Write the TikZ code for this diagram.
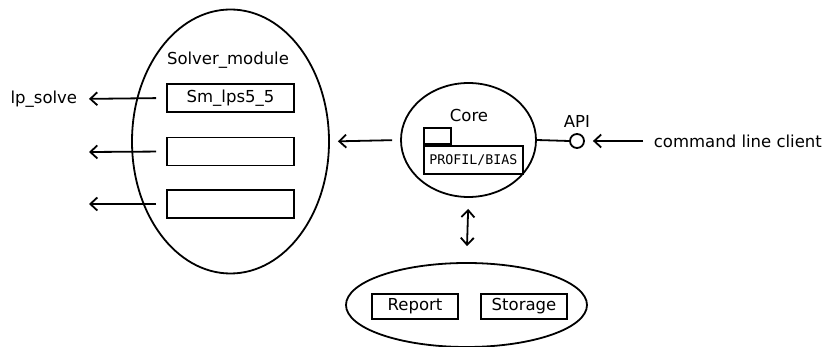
\documentclass[tikz,border=0pt]{standalone}
\usepackage{fontspec}
\setmainfont{DejaVu Sans}
\setmonofont{DejaVu Sans Mono}
\usetikzlibrary{shapes.geometric,arrows.meta}
\begin{document}
\begin{tikzpicture}[x=1pt,y=-1pt,line width=1.8pt,
  lbl/.style={inner sep=0pt,font=\fontsize{16.5}{20}\selectfont},
  oval/.style={draw,ellipse,inner sep=0pt},
  box/.style={draw,rectangle,inner sep=0pt,font=\fontsize{16.5}{20}\selectfont},
  arr/.style={-{Straight Barb[length=7pt,width=13pt,line width=1.8pt]}},
  darr/.style={{Straight Barb[length=7pt,width=13pt,line width=1.8pt]}-{Straight Barb[length=7pt,width=13pt,line width=1.8pt]}}]
\useasboundingbox (0,0) rectangle (828,347);
% Solver module
\node[oval,minimum width=197pt,minimum height=264pt] (solver) at (230.5,141.5) {};
\node[lbl] (solvlbl) at (228,60) {Solver\_module};
\node[box,minimum width=127pt,minimum height=28pt] (sm1) at (230.5,98) {Sm\_lps5\_5};
\node[box,minimum width=127pt,minimum height=28pt] (sm2) at (230.5,151.5) {};
\node[box,minimum width=127pt,minimum height=28pt] (sm3) at (230.5,204) {};
\node[lbl,anchor=east] (lp) at (78,99) {lp\_solve};
\coordinate (e2) at (89,152);
\coordinate (e3) at (89,204);
\draw[arr,shorten <=10pt,shorten >=11pt] (sm1.west) -- (lp.east);
\draw[arr,shorten <=10pt] (sm2.west) -- (e2);
\draw[arr,shorten <=10pt] (sm3.west) -- (e3);
% Core
\node[oval,minimum width=135pt,minimum height=114pt] (core) at (468.5,140) {};
\node[lbl] (corelbl) at (469,115) {Core};
\node[draw,rectangle,inner sep=0pt,minimum width=27pt,minimum height=16pt,anchor=south west] (tab) at (423,145) {};
\node[draw,rectangle,inner sep=0pt,minimum width=99pt,minimum height=28pt,anchor=north west,font=\ttfamily\fontsize{13.3}{16}\selectfont] (pkg) at (423,145) {PROFIL/BIAS};
\draw[arr,shorten <=8pt,shorten >=8pt] (core.west) -- (solver.east);
% API
\node[draw,circle,inner sep=0pt,minimum size=14pt] (api) at (577,141) {};
\node[lbl] (apilbl) at (577,121) {API};
\draw (core.east) -- (api.west);
\node[lbl,anchor=west] (cli) at (653,141) {command line client};
\draw[arr,shorten <=10pt,shorten >=8pt] (cli.west) -- (api.east);
% Bottom
\node[oval,minimum width=241pt,minimum height=84pt] (bottom) at (466.5,305) {};
\node[box,minimum width=86pt,minimum height=25pt] (report) at (415,306.5) {Report};
\node[box,minimum width=86pt,minimum height=25pt] (storage) at (524,306.5) {Storage};
\draw[darr,shorten <=11pt,shorten >=16pt] (core.south) -- (bottom.north);
\end{tikzpicture}
\end{document}
